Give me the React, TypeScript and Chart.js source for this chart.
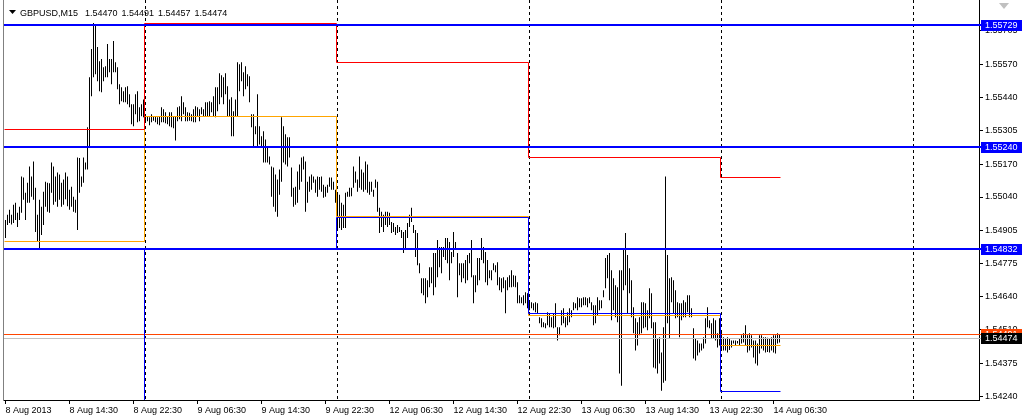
import React, { useEffect, useRef } from "react";
import { Chart, registerables } from "chart.js";

Chart.register(...registerables);

const TITLE_SYMBOL = "GBPUSD,M15";
const TITLE_OHLC = ["1.54470", "1.54491", "1.54457", "1.54474"];

const TIME_TICK_INDEX = [0, 32, 64, 96, 128, 160, 192, 224, 256, 288, 320, 352, 384];
const TIME_TICK_LABELS = [
  "8 Aug 2013", "8 Aug 14:30", "8 Aug 22:30", "9 Aug 06:30", "9 Aug 14:30", "9 Aug 22:30",
  "12 Aug 06:30", "12 Aug 14:30", "12 Aug 22:30", "13 Aug 06:30", "13 Aug 14:30", "13 Aug 22:30", "14 Aug 06:30",
];

const PRICE_TICKS = [1.55705, 1.5557, 1.5544, 1.55305, 1.5517, 1.5504, 1.54905, 1.54775, 1.5464, 1.5451, 1.54375, 1.5424];
const PRICE_MIN = 1.54227;
const PRICE_MAX = 1.55829;
const X_MIN = -0.75;
const X_MAX = 486.75;

// day structure (bar indices, M15 bars)
const DAY_START = [0, 70, 166, 262, 358];
const DAY_END = [69, 165, 261, 357, 387];
const SEPARATORS = [70, 166, 262, 358, 454];

// daily levels
const PREV_HIGH = [1.55311, 1.55737, 1.5558, 1.55202, 1.55122];
const PREV_LOW = [1.5415, 1.54836, 1.54961, 1.54574, 1.54264];
const DAY_LEVEL = [1.54864, 1.55363, 1.54965, 1.54568, 1.54449];

// horizontal lines
const H_LINES = [1.55729, 1.5524, 1.54832];
const ASK = 1.54491;
const BID = 1.54474;

const HIGH = [
  1.54948, 1.54969, 1.54989, 1.54969, 1.55009, 1.55017, 1.54977, 1.55001, 1.55122, 1.55118,
  1.55057, 1.55097, 1.55162, 1.55122, 1.55182, 1.55077, 1.54969, 1.55029, 1.55001, 1.55061,
  1.55101, 1.55097, 1.55095, 1.55178, 1.55162, 1.55122, 1.55138, 1.5513, 1.55097, 1.5511,
  1.55138, 1.55122, 1.55069, 1.55081, 1.55041, 1.55029, 1.55198, 1.55196, 1.55122, 1.55198,
  1.55178, 1.55319, 1.5552, 1.55633, 1.55737, 1.55725, 1.55641, 1.55584, 1.55593, 1.5556,
  1.55564, 1.55653, 1.55593, 1.55593, 1.55665, 1.5558, 1.5556, 1.55492, 1.5548, 1.55464,
  1.5548, 1.55484, 1.55452, 1.55411, 1.55411, 1.55452, 1.55464, 1.55399, 1.55411, 1.55431,
  1.55371, 1.55363, 1.55359, 1.55371, 1.55363, 1.55363, 1.55359, 1.55363, 1.55399, 1.55391,
  1.55379, 1.55363, 1.55379, 1.55379, 1.55363, 1.55363, 1.55399, 1.55403, 1.55444, 1.55419,
  1.55399, 1.55379, 1.55377, 1.55371, 1.55391, 1.55403, 1.55399, 1.55391, 1.55399, 1.55391,
  1.55419, 1.55419, 1.55423, 1.55419, 1.55444, 1.5548, 1.5548, 1.55536, 1.55528, 1.5552,
  1.55536, 1.55484, 1.55431, 1.5544, 1.55383, 1.55431, 1.5558, 1.55572, 1.5558, 1.5554,
  1.55564, 1.55532, 1.55524, 1.55371, 1.55371, 1.55323, 1.55452, 1.55323, 1.55283, 1.55303,
  1.5527, 1.55242, 1.55202, 1.55162, 1.55158, 1.5513, 1.5511, 1.5515, 1.55359, 1.55323,
  1.55291, 1.55279, 1.55279, 1.55158, 1.55077, 1.55081, 1.55142, 1.5517, 1.55198, 1.55202,
  1.55182, 1.55101, 1.55122, 1.5513, 1.55122, 1.5511, 1.55122, 1.5512, 1.55122, 1.55089,
  1.55081, 1.55089, 1.55118, 1.55118, 1.55101, 1.55069,
  1.55057, 1.55049, 1.55017, 1.55009, 1.55057, 1.55061, 1.55077, 1.55077, 1.55162, 1.55142,
  1.5511, 1.55202, 1.5515, 1.55138, 1.55182, 1.5517, 1.55101, 1.55101, 1.55069, 1.5511,
  1.55101, 1.54997, 1.54981, 1.54969, 1.54981, 1.54981, 1.54977, 1.5494, 1.54936, 1.5492,
  1.54928, 1.5492, 1.54908, 1.549, 1.54908, 1.54936, 1.54969, 1.54997, 1.54928, 1.54908,
  1.54896, 1.54775, 1.54715, 1.54715, 1.54715, 1.54707, 1.54759, 1.54759, 1.54816, 1.54816,
  1.54868, 1.5484, 1.5484, 1.5484, 1.54876, 1.54876, 1.5486, 1.5482, 1.549, 1.5486,
  1.54816, 1.54775, 1.54775, 1.54775, 1.54788, 1.54808, 1.54816, 1.54868, 1.54727, 1.54727,
  1.54796, 1.54796, 1.54876, 1.5484, 1.5482, 1.54788, 1.54747, 1.54747, 1.54775, 1.54767,
  1.54779, 1.54719, 1.54715, 1.54719, 1.54707, 1.54719, 1.54727, 1.54747, 1.54727, 1.54725,
  1.54699, 1.54647, 1.54639, 1.54647, 1.54659, 1.54655,
  1.54618, 1.54618, 1.54614, 1.54618, 1.54614, 1.54558, 1.54554, 1.54538, 1.54534, 1.54578,
  1.54574, 1.54558, 1.54574, 1.54614, 1.54518, 1.54518, 1.54586, 1.54594, 1.54558, 1.54578,
  1.54594, 1.54586, 1.54618, 1.54614, 1.54639, 1.54635, 1.54635, 1.54639, 1.54639, 1.54635,
  1.54639, 1.54618, 1.54606, 1.54606, 1.54639, 1.54626, 1.54626, 1.54667, 1.54796, 1.54808,
  1.54816, 1.54747, 1.54715, 1.54687, 1.54679, 1.54747, 1.54747, 1.54836, 1.54896, 1.54808,
  1.54755, 1.54707, 1.54598, 1.54554, 1.54538, 1.54558, 1.54618, 1.54618, 1.54614, 1.54586,
  1.54675, 1.54655, 1.54538, 1.54538, 1.54474, 1.54478, 1.54417, 1.54518, 1.55122, 1.54808,
  1.54715, 1.54719, 1.54707, 1.54667, 1.54618, 1.54614, 1.54614, 1.54626, 1.54618, 1.54647,
  1.54647, 1.54594, 1.54514, 1.54474, 1.54465, 1.54453, 1.54453, 1.54478, 1.54554, 1.54598,
  1.54546, 1.54534, 1.54554, 1.54546, 1.54494, 1.54554,
  1.54506, 1.54478, 1.54474, 1.54478, 1.54474, 1.54465, 1.54465, 1.54465, 1.54463, 1.54474,
  1.54486, 1.54494, 1.54526, 1.54486, 1.54494, 1.54486, 1.54465, 1.54465, 1.54453, 1.54486,
  1.54486, 1.54478, 1.54478, 1.54476, 1.54474, 1.54478, 1.54486, 1.54486, 1.54494, 1.54491,
];

const LOW = [
  1.54876, 1.54928, 1.54936, 1.5493, 1.54936, 1.54948, 1.5492, 1.54948, 1.54977, 1.55029,
  1.54948, 1.55017, 1.55017, 1.55041, 1.55029, 1.549, 1.5486, 1.54836, 1.54888, 1.54928,
  1.55001, 1.54981, 1.54977, 1.55057, 1.55009, 1.55021, 1.55001, 1.55029, 1.55001, 1.55009,
  1.55031, 1.55003, 1.54989, 1.55001, 1.54981, 1.54977, 1.54908, 1.55057, 1.55081, 1.55097,
  1.5515, 1.5515, 1.55242, 1.55444, 1.5552, 1.55532, 1.55504, 1.55464, 1.5546, 1.55504,
  1.5552, 1.5552, 1.5554, 1.55492, 1.5554, 1.5554, 1.55472, 1.55411, 1.55423, 1.55419,
  1.55419, 1.55411, 1.55399, 1.55331, 1.55323, 1.55371, 1.55339, 1.55343, 1.55363, 1.55359,
  1.55343, 1.55343, 1.55327, 1.55339, 1.55345, 1.55339, 1.55331, 1.55327, 1.55339, 1.55339,
  1.55335, 1.55331, 1.55323, 1.55319, 1.55315, 1.55266, 1.55343, 1.55351, 1.55343, 1.55371,
  1.55343, 1.55343, 1.55345, 1.55343, 1.55339, 1.55339, 1.55363, 1.55343, 1.55371, 1.55363,
  1.55363, 1.55361, 1.55363, 1.55379, 1.55363, 1.55359, 1.55383, 1.55411, 1.5544, 1.55411,
  1.55452, 1.55363, 1.55363, 1.55283, 1.55283, 1.55363, 1.55363, 1.55464, 1.55504, 1.55444,
  1.55472, 1.55484, 1.55419, 1.55319, 1.55242, 1.55291, 1.55242, 1.5525, 1.55238, 1.55178,
  1.55178, 1.55178, 1.5517, 1.55041, 1.55001, 1.54981, 1.54961, 1.55049, 1.55101, 1.55178,
  1.5517, 1.55162, 1.55198, 1.55041, 1.55001, 1.55009, 1.55017, 1.55069, 1.55101, 1.5515,
  1.54981, 1.55017, 1.55061, 1.55069, 1.55097, 1.55057, 1.55041, 1.55069, 1.55061, 1.55037,
  1.55041, 1.55057, 1.55081, 1.55069, 1.55069, 1.55017,
  1.54916, 1.54916, 1.54908, 1.54916, 1.54916, 1.55041, 1.55041, 1.55043, 1.55077, 1.55097,
  1.55061, 1.55077, 1.55069, 1.55061, 1.55069, 1.55057, 1.55049, 1.55061, 1.55041, 1.55077,
  1.54981, 1.54896, 1.5492, 1.549, 1.54928, 1.5492, 1.54928, 1.54896, 1.549, 1.54888,
  1.54896, 1.549, 1.54876, 1.54816, 1.54836, 1.54876, 1.5492, 1.5494, 1.54896, 1.548,
  1.54767, 1.54735, 1.54655, 1.54647, 1.54614, 1.54639, 1.54679, 1.54695, 1.54647, 1.54679,
  1.54719, 1.54759, 1.54735, 1.548, 1.54788, 1.54775, 1.54707, 1.54775, 1.548, 1.54828,
  1.54639, 1.54727, 1.54699, 1.54715, 1.54695, 1.54707, 1.54775, 1.54719, 1.54614, 1.54659,
  1.54687, 1.54707, 1.54788, 1.54775, 1.54699, 1.54687, 1.54715, 1.54707, 1.54747, 1.54739,
  1.54687, 1.54667, 1.54659, 1.54675, 1.54574, 1.54667, 1.54679, 1.54679, 1.54681, 1.54679,
  1.54614, 1.54614, 1.54614, 1.54606, 1.54614, 1.54594,
  1.54586, 1.54594, 1.54586, 1.54578, 1.54574, 1.54534, 1.54518, 1.54518, 1.54514, 1.54526,
  1.54518, 1.54518, 1.54514, 1.54518, 1.54465, 1.54486, 1.54526, 1.54534, 1.54518, 1.54526,
  1.54538, 1.54558, 1.54586, 1.54594, 1.54586, 1.54598, 1.54598, 1.54606, 1.54606, 1.54598,
  1.54614, 1.54586, 1.54526, 1.54534, 1.54566, 1.54586, 1.54594, 1.54639, 1.54675, 1.54715,
  1.54626, 1.54546, 1.54586, 1.54558, 1.54538, 1.54333, 1.54284, 1.54667, 1.54687, 1.54574,
  1.54655, 1.54558, 1.54494, 1.54425, 1.54445, 1.54486, 1.54494, 1.54514, 1.54518, 1.54506,
  1.54554, 1.54514, 1.54357, 1.54353, 1.54333, 1.54373, 1.54264, 1.54296, 1.54304, 1.54534,
  1.54474, 1.54618, 1.54574, 1.54554, 1.54558, 1.54478, 1.54546, 1.54558, 1.54558, 1.54578,
  1.54558, 1.54558, 1.54393, 1.54385, 1.54405, 1.54417, 1.54425, 1.54433, 1.54453, 1.54518,
  1.54514, 1.54474, 1.54474, 1.54465, 1.54437, 1.54445,
  1.54425, 1.54425, 1.54425, 1.54417, 1.54427, 1.54437, 1.54453, 1.54445, 1.54453, 1.54445,
  1.54453, 1.54457, 1.54445, 1.54417, 1.54425, 1.54437, 1.54397, 1.54373, 1.54365, 1.54413,
  1.54433, 1.54425, 1.54417, 1.54419, 1.54417, 1.54425, 1.54417, 1.54413, 1.54453, 1.54457,
];

const FONT = '"Liberation Sans", Arial, sans-serif';
const FONT_SIZE = 9;

function drawSteps(ctx: CanvasRenderingContext2D, x: any, y: any, levels: number[], color: string) {
  ctx.strokeStyle = color;
  ctx.lineWidth = 1;
  ctx.beginPath();
  levels.forEach((v, d) => {
    const v0 = d === 0 ? X_MIN : DAY_START[d] - 0.5;
    const v1 = d === levels.length - 1 ? DAY_END[d] + 0.5 : DAY_START[d + 1] - 0.5;
    const x0 = Math.floor(x.getPixelForValue(v0)) + 0.5;
    const x1 = Math.floor(x.getPixelForValue(v1)) + 0.5;
    const py = Math.round(y.getPixelForValue(v)) + 0.5;
    if (d === 0) ctx.moveTo(x0, py);
    else ctx.lineTo(x0, py);
    ctx.lineTo(x1, py);
  });
  ctx.stroke();
}

const overlayPlugin = {
  id: "mt4Overlay",
  beforeDatasetsDraw(chart: any) {
    const { ctx, chartArea, scales } = chart;
    const x = scales.x;
    ctx.save();
    ctx.strokeStyle = "#000000";
    ctx.lineWidth = 1;
    ctx.setLineDash([3, 3]);
    SEPARATORS.forEach((s) => {
      const px = Math.floor(x.getPixelForValue(s - 0.25)) + 0.5;
      ctx.beginPath();
      ctx.moveTo(px, chartArea.top);
      ctx.lineTo(px, chartArea.bottom);
      ctx.stroke();
    });
    ctx.restore();
  },
  afterDatasetsDraw(chart: any) {
    const { ctx, chartArea, scales } = chart;
    const x = scales.x;
    const y = scales.y;
    const right = y.left + 2;
    ctx.save();
    // bid / ask lines
    ctx.fillStyle = "#C0C0C0";
    ctx.fillRect(chartArea.left, Math.round(y.getPixelForValue(BID) - 0.5), right - chartArea.left, 1);
    ctx.fillStyle = "#FF4500";
    ctx.fillRect(chartArea.left, Math.round(y.getPixelForValue(ASK) - 0.5), right - chartArea.left, 1);
    // daily level step lines
    ctx.save();
    ctx.beginPath();
    ctx.rect(chartArea.left, chartArea.top, chartArea.right - chartArea.left, chartArea.bottom - chartArea.top);
    ctx.clip();
    drawSteps(ctx, x, y, DAY_LEVEL, "#FFA500");
    drawSteps(ctx, x, y, PREV_LOW, "#0000FF");
    drawSteps(ctx, x, y, PREV_HIGH, "#FF0000");
    ctx.restore();
    // thick horizontal lines
    ctx.fillStyle = "#0000FF";
    H_LINES.forEach((v) => {
      const py = y.getPixelForValue(v);
      ctx.fillRect(chartArea.left, Math.round(py - 1), right - chartArea.left, 2);
    });
    ctx.restore();
  },
  afterDraw(chart: any) {
    const { ctx, chartArea, scales } = chart;
    const y = scales.y;
    const bx = y.left + 2;
    ctx.save();
    ctx.font = `${FONT_SIZE}px ${FONT}`;
    ctx.textBaseline = "middle";
    ctx.textAlign = "left";
    const boxes: [number, string][] = [
      ...H_LINES.map((v) => [v, "#0000FF"] as [number, string]),
      [ASK, "#FF4500"],
      [BID, "#000000"],
    ];
    boxes.forEach(([v, c]) => {
      const py = Math.round(y.getPixelForValue(v));
      ctx.fillStyle = c;
      ctx.fillRect(bx, py - 5, 41, 11);
      ctx.fillStyle = "#FFFFFF";
      ctx.fillText(v.toFixed(5), y.left + 6, py + 0.5);
    });
    // left frame
    ctx.fillStyle = "#808080";
    ctx.fillRect(chartArea.left - 1, 0, 1, chartArea.bottom + 1);
    // title
    ctx.fillStyle = "#000000";
    ctx.beginPath();
    ctx.moveTo(9, 10);
    ctx.lineTo(16, 10);
    ctx.lineTo(12.5, 14);
    ctx.closePath();
    ctx.fill();
    ctx.textBaseline = "alphabetic";
    let tx = 20;
    ctx.fillText(TITLE_SYMBOL, tx, 16);
    tx += ctx.measureText(TITLE_SYMBOL).width + 7;
    TITLE_OHLC.forEach((t) => {
      ctx.fillText(t, tx, 16);
      tx += ctx.measureText(t).width + 4;
    });
    // shift marker
    ctx.fillStyle = "#C0C0C0";
    ctx.beginPath();
    ctx.moveTo(999, 3);
    ctx.lineTo(1009, 3);
    ctx.lineTo(1004, 9);
    ctx.closePath();
    ctx.fill();
    ctx.restore();
  },
};

export default function App() {
  const ref = useRef<HTMLCanvasElement | null>(null);
  useEffect(() => {
    const canvas = ref.current;
    if (!canvas) return;
    const chart = new Chart(canvas, {
      type: "bar",
      data: {
        datasets: [
          {
            type: "bar",
            data: HIGH.map((h, i) => ({ x: i, y: [LOW[i], h] })),
            backgroundColor: "#000000",
            borderWidth: 0,
            barThickness: 1,
            inflateAmount: 0,
            grouped: false,
          } as any,
        ],
      },
      options: {
        animation: false,
        responsive: false,
        devicePixelRatio: 1,
        layout: { padding: { left: 4, top: 0, right: 0, bottom: 0 } },
        plugins: { legend: { display: false }, tooltip: { enabled: false } },
        scales: {
          x: {
            type: "linear",
            position: "bottom",
            min: X_MIN,
            max: X_MAX,
            offset: false,
            afterFit: (s: any) => {
              s.height = 20;
              s.paddingLeft = 0;
              s.paddingRight = 0;
            },
            afterBuildTicks: (s: any) => {
              s.ticks = TIME_TICK_INDEX.map((v) => ({ value: v }));
            },
            grid: { drawOnChartArea: false, drawTicks: true, tickLength: 4, color: "#000000", offset: false },
            border: { display: true, color: "#000000", width: 1 },
            ticks: {
              autoSkip: false,
              maxRotation: 0,
              minRotation: 0,
              align: "start",
              padding: 1,
              color: "#000000",
              font: { family: FONT, size: FONT_SIZE },
              callback: (v: any) => {
                const k = TIME_TICK_INDEX.indexOf(Number(v));
                return k >= 0 ? TIME_TICK_LABELS[k] : "";
              },
            },
          },
          y: {
            type: "linear",
            position: "right",
            min: PRICE_MIN,
            max: PRICE_MAX,
            afterFit: (s: any) => {
              s.width = 45;
              s.paddingTop = 0;
              s.paddingBottom = 0;
            },
            afterBuildTicks: (s: any) => {
              s.ticks = PRICE_TICKS.map((v) => ({ value: v }));
            },
            grid: { drawOnChartArea: false, drawTicks: true, tickLength: 4, color: "#000000" },
            border: { display: true, color: "#000000", width: 1 },
            ticks: {
              autoSkip: false,
              padding: 2,
              color: "#000000",
              font: { family: FONT, size: FONT_SIZE },
              callback: (v: any) => Number(v).toFixed(5),
            },
          },
        },
      } as any,
      plugins: [overlayPlugin],
    });
    return () => chart.destroy();
  }, []);

  return (
    <div style={{ position: "fixed", left: 0, top: 0, width: 1024, height: 420, background: "#ffffff" }}>
      <canvas ref={ref} width={1024} height={420} style={{ width: 1024, height: 420, display: "block" }} />
    </div>
  );
}
